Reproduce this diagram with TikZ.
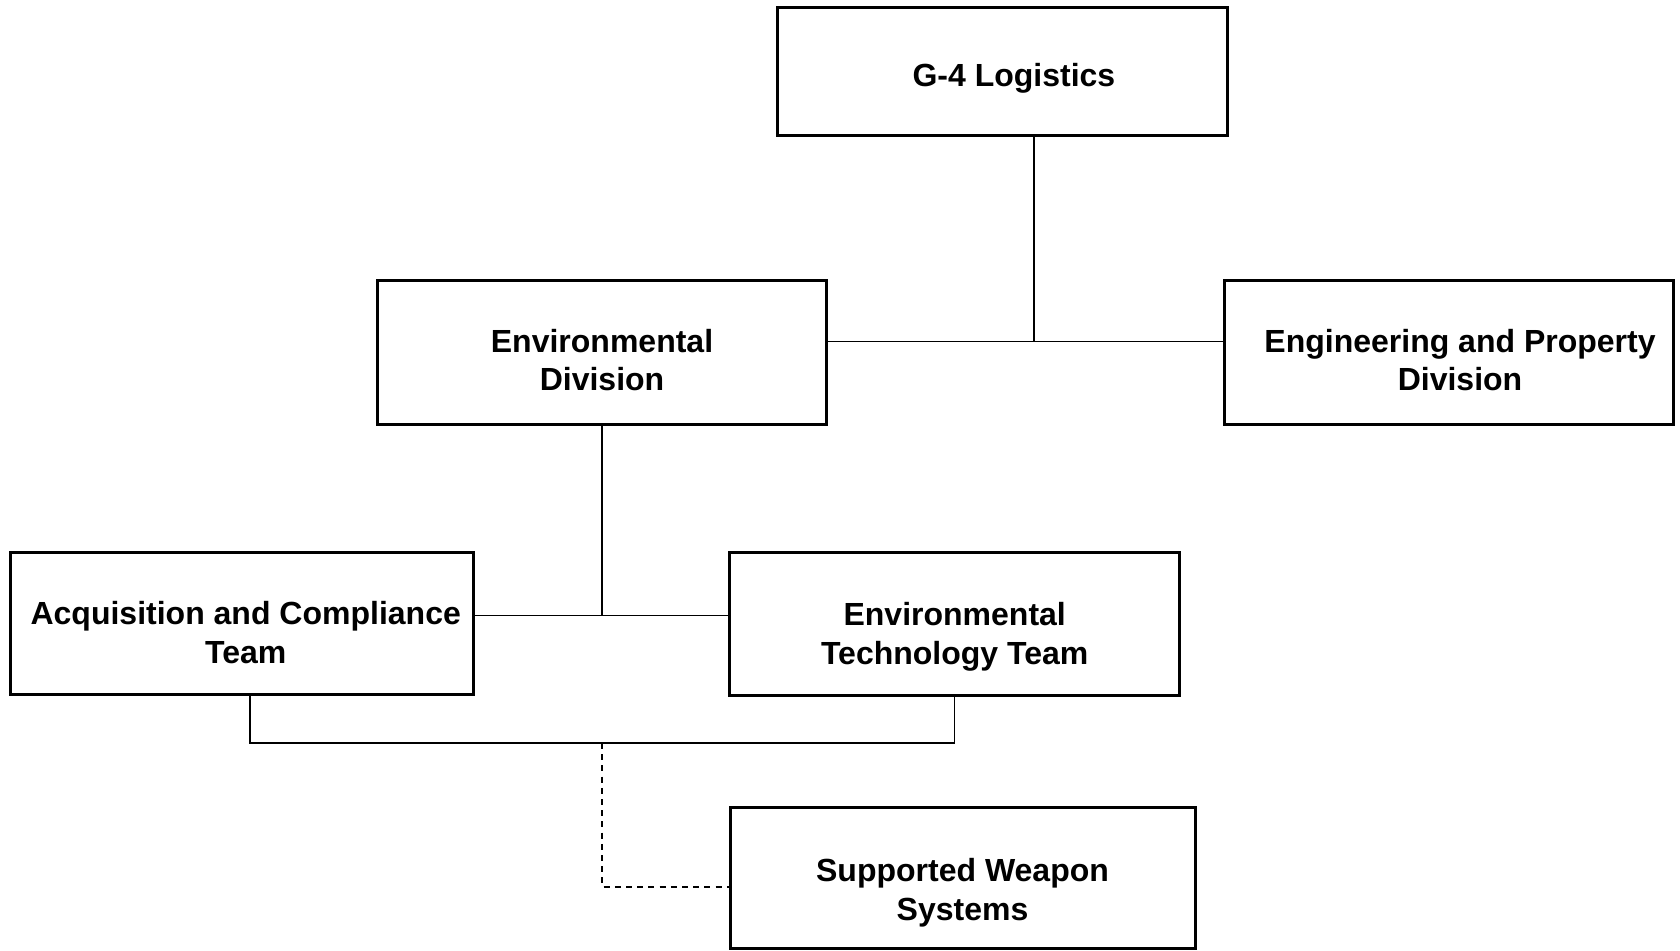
\documentclass[tikz,border=0pt]{standalone}
\usepackage{fontspec}
\setmainfont{Liberation Sans}
\newcommand{\shiftdown}[2]{\raisebox{-#1}[\height][\depth]{\begin{tabular}{@{}c@{}}#2\end{tabular}}}
\begin{document}
\begin{tikzpicture}[x=0.5pt,y=-0.5pt,
  box/.style={draw=black,line width=1.5pt,rectangle,align=center,inner sep=0pt,
    font=\fontsize{16}{19.3}\selectfont\bfseries,minimum width=#1},
  box/.default=225pt,
  conn/.style={draw=black,line width=0.7pt},
  dconn/.style={conn,dash pattern=on 3pt off 2.6pt}]
\useasboundingbox (0,0) rectangle (1680,950);
\node[box=225pt,minimum height=63.75pt] (g4) at (1002.5,71.25) {\shiftdown{3.75pt}{\hspace*{11.4pt}G-4 Logistics}};
\node[box=224.7pt,minimum height=72pt] (envdiv) at (602,352) {\shiftdown{5.9pt}{Environmental\\Division}};
\node[box=224.2pt,minimum height=72pt] (eng) at (1449,352) {\shiftdown{5.9pt}{\hspace*{11pt}Engineering and Property\\\hspace*{11pt}Division}};
\node[box=231.7pt,minimum height=71.25pt] (acq) at (241.7,623.7) {\shiftdown{6.4pt}{\hspace*{4pt}Acquisition and Compliance\\\hspace*{4pt}Team}};
\node[box=225.25pt,minimum height=71.5pt] (envtech) at (954.7,623.5) {\shiftdown{7pt}{Environmental\\Technology Team}};
\node[box=232.5pt,minimum height=70.5pt] (sws) at (962.5,877.5) {\shiftdown{8pt}{Supported Weapon\\Systems}};
\coordinate (j1) at (1034,341.7);
\coordinate (j2) at (602,615.5);
\coordinate (a1) at (250,743);
\coordinate (j3) at (602,743);
\coordinate (d1) at (602,887);
\draw[conn] (g4.south -| j1) -- (j1);
\draw[conn] (envdiv.east |- j1) -- (eng.west |- j1);
\draw[conn] (envdiv.south) -- (j2);
\draw[conn] (acq.east |- j2) -- (envtech.west |- j2);
\draw[conn] (acq.south -| a1) -- (a1) -- (envtech.south |- a1) -- (envtech.south);
\draw[dconn] (j3) -- (d1) -- (sws.west |- d1);
\end{tikzpicture}
\end{document}
